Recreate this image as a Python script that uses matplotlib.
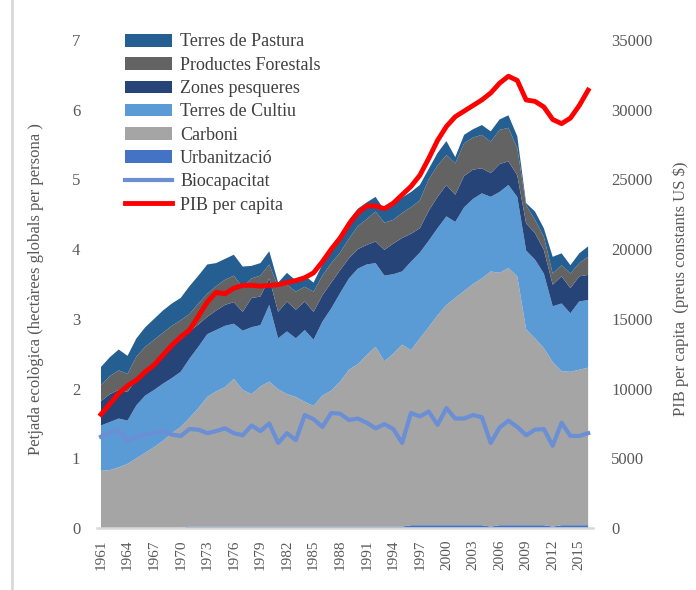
import matplotlib.pyplot as plt
from matplotlib.lines import Line2D

plt.rcParams['font.family'] = ['Liberation Serif', 'DejaVu Serif']

years = list(range(1961, 2017))
tick_years = list(range(1961, 2017, 3))

# hectàrees globals per persona (one value per year)
urbanitzacio = [0] * 10 + [0.02] * 25 + [0.04] * 9 + [0.02] + [0.04] * 6 + [0.02] + [0.04] * 4
carboni = [0.82, 0.83, 0.87, 0.92, 1.00, 1.08, 1.16, 1.25, 1.36, 1.45,
           1.56, 1.70, 1.86, 1.94, 2.00, 2.12, 1.96, 1.90, 2.01, 2.08,
           1.97, 1.90, 1.86, 1.79, 1.73, 1.88, 1.95, 2.08, 2.25, 2.33,
           2.46, 2.58, 2.37, 2.48, 2.61, 2.51, 2.68, 2.84, 3.01, 3.16,
           3.26, 3.36, 3.46, 3.54, 3.66, 3.62, 3.69, 3.57, 2.81, 2.68,
           2.54, 2.36, 2.21, 2.20, 2.23, 2.26]
cultiu = [0.65, 0.69, 0.70, 0.62, 0.76, 0.82, 0.82, 0.82, 0.79, 0.79,
          0.85, 0.88, 0.90, 0.88, 0.88, 0.79, 0.85, 0.96, 0.88, 1.10,
          0.73, 0.90, 0.84, 1.03, 0.95, 1.06, 1.18, 1.27, 1.31, 1.37,
          1.30, 1.20, 1.23, 1.14, 1.05, 1.27, 1.23, 1.24, 1.25, 1.27,
          1.09, 1.20, 1.22, 1.22, 1.07, 1.16, 1.19, 1.14, 1.13, 1.13,
          1.07, 0.80, 0.97, 0.84, 0.98, 0.97]
pesqueres = [0.35, 0.40, 0.41, 0.41, 0.38, 0.37, 0.40, 0.42, 0.44, 0.46,
             0.39, 0.32, 0.25, 0.28, 0.30, 0.31, 0.27, 0.42, 0.41, 0.38,
             0.38, 0.43, 0.41, 0.41, 0.40, 0.38, 0.37, 0.33, 0.29, 0.28,
             0.28, 0.31, 0.37, 0.44, 0.48, 0.40, 0.35, 0.43, 0.45, 0.45,
             0.39, 0.45, 0.42, 0.36, 0.34, 0.40, 0.34, 0.31, 0.39, 0.38,
             0.34, 0.31, 0.39, 0.36, 0.36, 0.36]
forestals = [0.23, 0.26, 0.28, 0.26, 0.32, 0.33, 0.32, 0.31, 0.31, 0.28,
             0.25, 0.30, 0.33, 0.35, 0.36, 0.38, 0.35, 0.28, 0.30, 0.20,
             0.36, 0.24, 0.26, 0.21, 0.29, 0.28, 0.28, 0.25, 0.28, 0.33,
             0.37, 0.43, 0.39, 0.34, 0.36, 0.38, 0.40, 0.45, 0.45, 0.43,
             0.45, 0.47, 0.46, 0.48, 0.45, 0.49, 0.48, 0.39, 0.26, 0.19,
             0.19, 0.16, 0.16, 0.21, 0.19, 0.26]
pastura = [0.26, 0.27, 0.30, 0.26, 0.26, 0.28, 0.30, 0.32, 0.32, 0.32,
           0.40, 0.40, 0.42, 0.33, 0.30, 0.30, 0.30, 0.18, 0.18, 0.19,
           0.06, 0.17, 0.16, 0.16, 0.13, 0.16, 0.18, 0.23, 0.27, 0.25,
           0.24, 0.21, 0.18, 0.22, 0.22, 0.22, 0.22, 0.15, 0.18, 0.20,
           0.09, 0.12, 0.12, 0.14, 0.15, 0.15, 0.18, 0.17, 0.03, 0.12,
           0.12, 0.24, 0.17, 0.12, 0.14, 0.15]
biocapacitat = [1.31, 1.37, 1.40, 1.24, 1.30, 1.34, 1.36, 1.39, 1.34, 1.32,
                1.42, 1.41, 1.36, 1.39, 1.43, 1.36, 1.33, 1.47, 1.39, 1.50,
                1.22, 1.36, 1.26, 1.62, 1.56, 1.45, 1.65, 1.64, 1.55, 1.57,
                1.51, 1.43, 1.49, 1.42, 1.22, 1.65, 1.60, 1.67, 1.48, 1.72,
                1.57, 1.57, 1.62, 1.59, 1.22, 1.44, 1.54, 1.45, 1.33, 1.41,
                1.42, 1.18, 1.51, 1.32, 1.32, 1.36]
# PIB per capita, preus constants US $
pib = [8150, 8900, 9650, 10200, 10600, 11200, 11700, 12400, 13100, 13700,
       14200, 15200, 16200, 16900, 16800, 17200, 17400, 17400, 17350, 17400,
       17450, 17600, 17750, 17950, 18300, 19100, 20000, 20800, 21800, 22600,
       23100, 23100, 22900, 23300, 23900, 24500, 25300, 26500, 27800, 28800,
       29500, 29900, 30300, 30700, 31200, 31900, 32400, 32100, 30700, 30600,
       30200, 29300, 29000, 29400, 30300, 31400]

layer_names = ['Urbanització', 'Carboni', 'Terres de Cultiu', 'Zones pesqueres',
               'Productes Forestals', 'Terres de Pastura']
layer_colors = ['#4472c4', '#a5a5a5', '#5b9bd5', '#264478', '#636363', '#255e91']

tick_color = '#595959'

fig = plt.figure(figsize=(6.96, 5.90), dpi=100)
ax = fig.add_axes([97 / 696, 62 / 590, 496 / 696, 488 / 590])

stack = ax.stackplot(years, urbanitzacio, carboni, cultiu, pesqueres, forestals, pastura,
                     colors=layer_colors, labels=layer_names, linewidth=0)
bio_line, = ax.plot(years, biocapacitat, color='#6b8fd4', lw=3, label='Biocapacitat')

ax.set_xlim(1960.55, 2016.55)
ax.set_ylim(0, 7)
ax.set_yticks(range(0, 8))
ax.set_xticks(tick_years)
ax.tick_params(axis='y', length=0, labelsize=12, colors=tick_color, pad=12)
ax.tick_params(axis='x', length=0, labelsize=11, colors=tick_color, pad=8, labelrotation=90)
for s in ['top', 'left', 'right']:
    ax.spines[s].set_visible(False)
ax.spines['bottom'].set_color('#d9d9d9')
ax.spines['bottom'].set_linewidth(1.8)
ax.set_ylabel('Petjada ecològica (hectàrees globals per persona )', fontsize=12, color=tick_color)
ax.yaxis.set_label_coords(-0.107, 0.49)

ax2 = ax.twinx()
pib_line, = ax2.plot(years, pib, color='#ff0000', lw=3.5, label='PIB per capita')
ax2.set_ylim(0, 35000)
ax2.set_yticks(range(0, 35001, 5000))
ax2.tick_params(axis='y', length=0, labelsize=12, colors=tick_color, pad=13)
for s in ax2.spines.values():
    s.set_visible(False)
ax2.set_ylabel('PIB per capita  (preus constants US $)', fontsize=12, color=tick_color)
ax2.yaxis.set_label_coords(1.161, 0.49)

handles = list(stack[::-1]) + [bio_line, pib_line]
labels = layer_names[::-1] + ['Biocapacitat', 'PIB per capita']
leg = ax2.legend(handles, labels, loc='upper left', bbox_to_anchor=(125 / 696, 1 - 33.5 / 590),
                 bbox_transform=fig.transFigure, frameon=False, borderpad=0, borderaxespad=0,
                 labelspacing=0.35, handlelength=2.6, handletextpad=0.45,
                 prop={'family': 'Liberation Serif', 'size': 13})
for t in leg.get_texts():
    t.set_color('#404040')

# chart border remnant on the left
fig.add_artist(Line2D([12 / 696, 12 / 696], [0, 1], transform=fig.transFigure,
                      color='#d9d9d9', lw=2))

fig.savefig('out.png', dpi=100)
